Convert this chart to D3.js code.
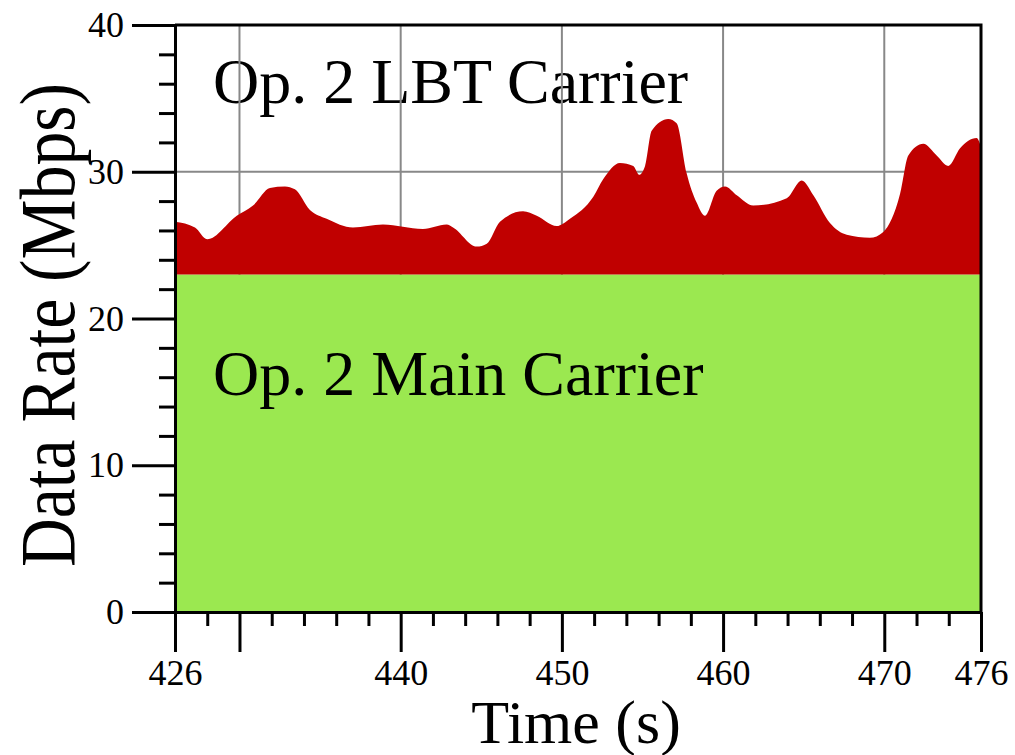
<!DOCTYPE html>
<html>
  <head>
    <style>
      body { margin: 0; background: #fff; }
      text { font-family: "Liberation Serif", "Times New Roman", serif; }
    </style>
  </head>

  <body>

    <svg class="surface" width="1015" height="755"></svg>

    <script src="https://cdn.jsdelivr.net/npm/d3@7/dist/d3.min.js" charset="utf-8"></script>
    <script>

      // main carrier rate (flat) and LBT carrier rate stacked on top of it
      const mainTimes = [426, 476]
      const mainRate = [23, 23]

      const lbtTimes = [426.0, 427.24, 428.0, 429.83, 430.84, 431.89, 432.82, 433.44, 434.37, 435.41,
        437.04, 438.9, 441.38, 442.85, 443.25, 444.72, 445.34, 446.16, 447.59, 448.44,
        449.68, 450.5, 451.95, 452.57, 453.6, 454.43, 454.8, 455.16, 455.57, 456.6,
        457.12, 457.74, 458.36, 458.88, 459.6, 460.12, 460.85, 461.87, 463.95, 464.88,
        465.6, 466.63, 467.67, 469.11, 469.94, 470.98, 471.49, 472.42, 473.25, 473.97,
        474.7, 475.73, 476.0]
      const lbtRate = [3.6, 3.2, 2.4, 4.0, 4.7, 5.9, 6.0, 5.8, 4.4, 3.8,
        3.2, 3.4, 3.1, 3.4, 3.2, 1.9, 2.1, 3.6, 4.3, 4.0,
        3.3, 3.8, 5.3, 6.5, 7.6, 7.4, 6.8, 7.4, 9.8, 10.6,
        10.3, 6.9, 4.9, 4.0, 5.7, 6.0, 5.4, 4.7, 5.2, 6.4,
        5.4, 3.5, 2.7, 2.5, 2.9, 5.5, 8.1, 8.9, 8.1, 7.4,
        8.6, 9.3, 8.7]

      const xMajor = [426, 430, 440, 450, 460, 470, 476]
      const xLabels = ['426', '', '440', '450', '460', '470', '476']
      const xMinor = [428, 432, 434, 436, 438, 442, 444, 446, 448, 452, 454, 456, 458, 462, 464, 466, 468, 472, 474]
      const yMajor = [0, 10, 20, 30, 40]
      const yMinor = [2, 4, 6, 8, 12, 14, 16, 18, 22, 24, 26, 28, 32, 34, 36, 38]
      const gridX = [430, 440, 450, 460, 470]
      const gridY = [10, 20, 30]

      const svg = d3.select('.surface')
      const x = d3.scaleLinear().domain([426, 476]).range([175, 981])
      const y = d3.scaleLinear().domain([0, 40]).range([612, 25])

      // LBT label sits under the grid
      svg.append('text')
        .attr('x', 213).attr('y', 103)
        .attr('font-size', 64)
        .text('Op. 2 LBT Carrier')

      const grid = svg.append('g').attr('stroke', '#888').attr('stroke-width', 2)
      grid.selectAll('.gx').data(gridX).enter().append('line')
        .attr('x1', d => x(d)).attr('x2', d => x(d))
        .attr('y1', y(0)).attr('y2', y(40))
      grid.selectAll('.gy').data(gridY).enter().append('line')
        .attr('x1', x(426)).attr('x2', x(476))
        .attr('y1', d => y(d)).attr('y2', d => y(d))

      const mainData = mainTimes.map((t, i) => ({ t, v: mainRate[i] }))
      svg.append('path')
        .datum(mainData)
        .attr('fill', '#9be850')
        .attr('d', d3.area().x(d => x(d.t)).y0(y(0)).y1(d => y(d.v)))

      const base = mainRate[0]
      const lbtData = lbtTimes.map((t, i) => ({ t, v: lbtRate[i] }))
      svg.append('path')
        .datum(lbtData)
        .attr('fill', '#c00000')
        .attr('d', d3.area().curve(d3.curveMonotoneX)
          .x(d => x(d.t)).y0(y(base)).y1(d => y(base + d.v)))

      svg.append('text')
        .attr('x', 213).attr('y', 395)
        .attr('font-size', 64)
        .text('Op. 2 Main Carrier')

      // frame
      svg.append('path')
        .attr('fill', 'none').attr('stroke', '#000').attr('stroke-width', 3)
        .attr('d', `M${x(426)},${y(40)}H${x(476)}V${y(0)}`)

      // axes
      const styleAxis = g => {
        g.select('.domain').attr('stroke-width', 3)
        g.selectAll('.tick line').attr('stroke-width', 3)
        g.selectAll('.tick text').attr('font-size', 36).attr('font-family', '"Liberation Serif", serif')
      }

      svg.append('g')
        .attr('transform', `translate(0,${y(0)})`)
        .call(d3.axisBottom(x).tickValues(xMinor).tickSize(14).tickFormat('').tickSizeOuter(0))
        .call(styleAxis)
      svg.append('g')
        .attr('transform', `translate(0,${y(0)})`)
        .call(d3.axisBottom(x).tickValues(xMajor).tickSize(40).tickPadding(7)
          .tickFormat((d, i) => xLabels[i]).tickSizeOuter(0))
        .call(styleAxis)

      svg.append('g')
        .attr('transform', `translate(${x(426)},0)`)
        .call(d3.axisLeft(y).tickValues(yMinor).tickSize(16).tickFormat('').tickSizeOuter(0))
        .call(styleAxis)
      svg.append('g')
        .attr('transform', `translate(${x(426)},0)`)
        .call(d3.axisLeft(y).tickValues(yMajor).tickSize(43).tickPadding(8).tickSizeOuter(0))
        .call(styleAxis)

      // axis titles
      svg.append('text')
        .attr('x', 576).attr('y', 743)
        .attr('text-anchor', 'middle')
        .attr('font-size', 62)
        .text('Time (s)')

      svg.append('text')
        .attr('transform', 'translate(74,325) rotate(-90)')
        .attr('text-anchor', 'middle')
        .attr('font-size', 78)
        .attr('textLength', 484)
        .attr('lengthAdjust', 'spacingAndGlyphs')
        .text('Data Rate (Mbps)')

    </script>
  </body>

</html>
